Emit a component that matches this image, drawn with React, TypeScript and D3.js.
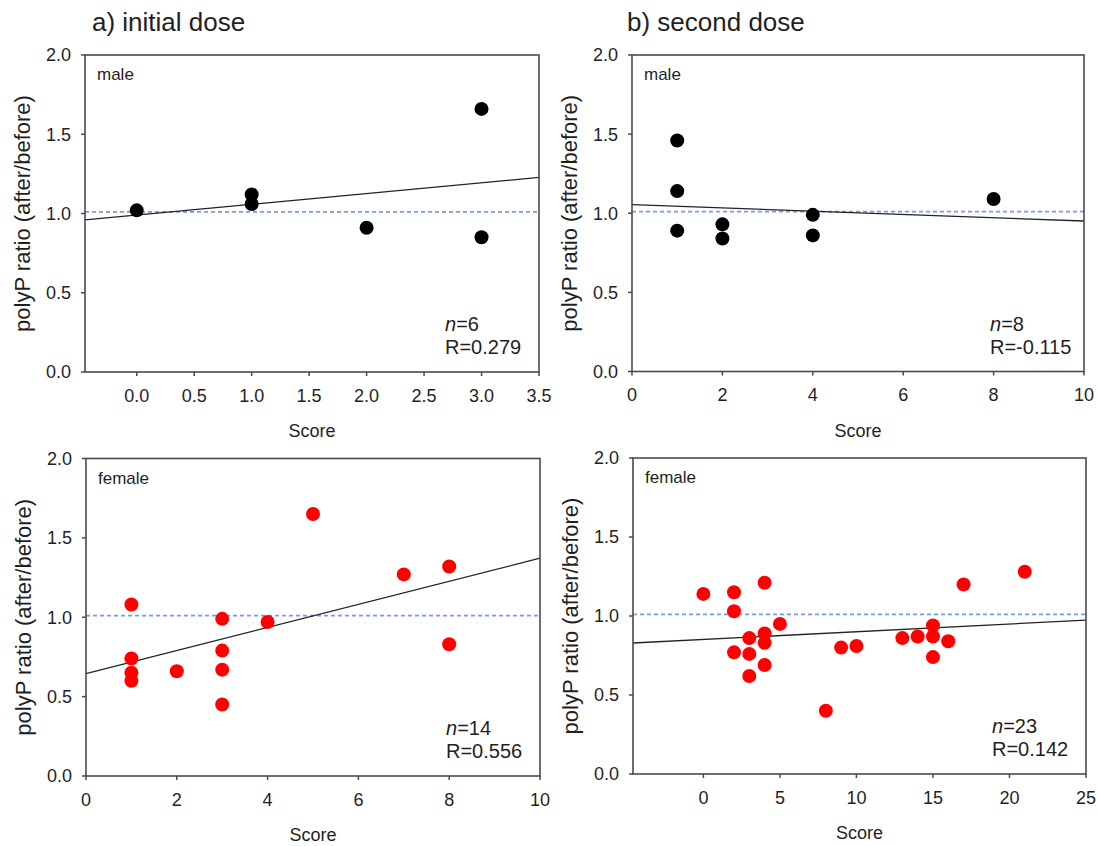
import React from "react";
import * as d3 from "d3";

// ---- data ----
const aMaleX = [0, 1, 1, 2, 3, 3];
const aMaleY = [1.02, 1.12, 1.06, 0.91, 1.66, 0.85];

const bMaleX = [1, 1, 1, 2, 2, 4, 4, 8];
const bMaleY = [1.46, 1.14, 0.89, 0.93, 0.84, 0.99, 0.86, 1.09];

const aFemaleX = [1, 1, 1, 1, 2, 3, 3, 3, 3, 4, 5, 7, 8, 8];
const aFemaleY = [1.08, 0.74, 0.65, 0.6, 0.66, 0.99, 0.79, 0.67, 0.45, 0.97, 1.65, 1.27, 1.32, 0.83];

const bFemaleX = [0, 2, 2, 2, 3, 3, 3, 4, 4, 4, 4, 5, 8, 9, 10, 13, 14, 15, 15, 15, 16, 17, 21];
const bFemaleY = [1.14, 1.15, 1.03, 0.77, 0.86, 0.76, 0.62, 1.21, 0.89, 0.83, 0.69, 0.95, 0.4, 0.8, 0.81, 0.86, 0.87, 0.94, 0.87, 0.74, 0.84, 1.2, 1.28];

const yTicks = [0, 0.5, 1.0, 1.5, 2.0];
const aMaleXTicks = [0, 0.5, 1.0, 1.5, 2.0, 2.5, 3.0, 3.5];
const bMaleXTicks = [0, 2, 4, 6, 8, 10];
const aFemaleXTicks = [0, 2, 4, 6, 8, 10];
const bFemaleXTicks = [0, 5, 10, 15, 20, 25];

const titles = ["a) initial dose", "b) second dose"];
const groupLabels = ["male", "female"];
const nLabels = ["6", "8", "14", "23"];
const rLabels = ["R=0.279", "R=-0.115", "R=0.556", "R=0.142"];
const referenceLevel = 1.01;

const FONT = "Arial, 'Liberation Sans', Helvetica, sans-serif";
const TXT = "#1f1f1f";
const AXIS = "#4a4a4a";

type PanelSpec = {
  xs: number[];
  ys: number[];
  xDomain: [number, number];
  xTicks: number[];
  fmt: (v: number) => string;
  color: string;
  group: string;
  n: string;
  r: string;
  left: number;
  right: number;
  top: number;
  bottom: number;
};

function fit(xs: number[], ys: number[]) {
  const mx = d3.mean(xs) as number;
  const my = d3.mean(ys) as number;
  let sxy = 0;
  let sxx = 0;
  xs.forEach((x, i) => {
    sxy += (x - mx) * (ys[i] - my);
    sxx += (x - mx) * (x - mx);
  });
  const slope = sxy / sxx;
  return { slope, intercept: my - slope * mx };
}

function Panel({ p }: { p: PanelSpec }) {
  const x = d3.scaleLinear().domain(p.xDomain).range([p.left, p.right]);
  const y = d3.scaleLinear().domain([0, 2]).range([p.bottom, p.top]);
  const { slope, intercept } = fit(p.xs, p.ys);
  const line = d3
    .line<number>()
    .x((d) => x(d))
    .y((d) => y(intercept + slope * d));
  const cx = (p.left + p.right) / 2;
  const cy = (p.top + p.bottom) / 2;
  return (
    <g>
      {/* reference dashed line */}
      <line
        x1={p.left}
        x2={p.right}
        y1={y(referenceLevel)}
        y2={y(referenceLevel)}
        stroke="#7a9be0"
        strokeWidth={1.6}
        strokeDasharray="4,3"
      />
      {/* regression line */}
      <path d={line(p.xDomain) as string} stroke="#222" strokeWidth={1.3} fill="none" />
      {/* points */}
      {p.xs.map((xv, i) => (
        <circle key={i} cx={x(xv)} cy={y(p.ys[i])} r={7} fill={p.color} />
      ))}
      {/* frame */}
      <rect
        x={p.left}
        y={p.top}
        width={p.right - p.left}
        height={p.bottom - p.top}
        fill="none"
        stroke={AXIS}
        strokeWidth={1.6}
      />
      {/* y ticks */}
      {yTicks.map((t) => (
        <g key={"y" + t}>
          <line x1={p.left - 4} x2={p.left} y1={y(t)} y2={y(t)} stroke={AXIS} strokeWidth={1.5} />
          <text
            x={p.left - 14}
            y={y(t)}
            dy="0.36em"
            textAnchor="end"
            fontSize={18}
            fontFamily={FONT}
            fill={TXT}
          >
            {t.toFixed(1)}
          </text>
        </g>
      ))}
      {/* x ticks */}
      {p.xTicks.map((t) => (
        <g key={"x" + t}>
          <line x1={x(t)} x2={x(t)} y1={p.bottom} y2={p.bottom + 4} stroke={AXIS} strokeWidth={1.5} />
          <text
            x={x(t)}
            y={p.bottom + 29.5}
            textAnchor="middle"
            fontSize={18}
            fontFamily={FONT}
            fill={TXT}
          >
            {p.fmt(t)}
          </text>
        </g>
      ))}
      {/* axis labels */}
      <text
        x={cx}
        y={p.bottom + 65}
        textAnchor="middle"
        fontSize={18}
        fontFamily={FONT}
        fill={TXT}
      >
        Score
      </text>
      <text
        transform={`translate(${p.left - 55},${cy}) rotate(-90)`}
        textAnchor="middle"
        fontSize={22}
        fontFamily={FONT}
        fill={TXT}
      >
        polyP ratio (after/before)
      </text>
      {/* group label */}
      <text x={p.left + 12} y={p.top + 25} fontSize={17} fontFamily={FONT} fill={TXT}>
        {p.group}
      </text>
      {/* n and R */}
      <text x={p.right - 94} y={p.bottom - 41} fontSize={20} fontFamily={FONT} fill={TXT}>
        <tspan fontStyle="italic">n</tspan>={p.n}
      </text>
      <text x={p.right - 94} y={p.bottom - 18} fontSize={20} fontFamily={FONT} fill={TXT}>
        {p.r}
      </text>
    </g>
  );
}

export default function App() {
  const f1 = (v: number) => v.toFixed(1);
  const f0 = (v: number) => String(v);
  const panels: PanelSpec[] = [
    {
      xs: aMaleX, ys: aMaleY, xDomain: [-0.45, 3.5], xTicks: aMaleXTicks, fmt: f1,
      color: "#000", group: groupLabels[0], n: nLabels[0], r: rLabels[0],
      left: 85, right: 539, top: 55, bottom: 372,
    },
    {
      xs: bMaleX, ys: bMaleY, xDomain: [0, 10], xTicks: bMaleXTicks, fmt: f0,
      color: "#000", group: groupLabels[0], n: nLabels[1], r: rLabels[1],
      left: 632, right: 1084, top: 55, bottom: 371.5,
    },
    {
      xs: aFemaleX, ys: aFemaleY, xDomain: [0, 10], xTicks: aFemaleXTicks, fmt: f0,
      color: "#ff0000", group: groupLabels[1], n: nLabels[2], r: rLabels[2],
      left: 86, right: 540, top: 458.5, bottom: 776,
    },
    {
      xs: bFemaleX, ys: bFemaleY, xDomain: [-4.6, 25], xTicks: bFemaleXTicks, fmt: f0,
      color: "#ff0000", group: groupLabels[1], n: nLabels[3], r: rLabels[3],
      left: 633, right: 1086, top: 458, bottom: 774,
    },
  ];
  return (
    <svg
      width={1097}
      height={846}
      style={{ position: "absolute", left: 0, top: 0, background: "#fff" }}
    >
      <rect width={1097} height={846} fill="#fff" />
      <text x={92} y={31} fontSize={26} fontFamily={FONT} fill={TXT}>
        {titles[0]}
      </text>
      <text x={627} y={31} fontSize={26} fontFamily={FONT} fill={TXT}>
        {titles[1]}
      </text>
      {panels.map((p, i) => (
        <Panel key={i} p={p} />
      ))}
    </svg>
  );
}
